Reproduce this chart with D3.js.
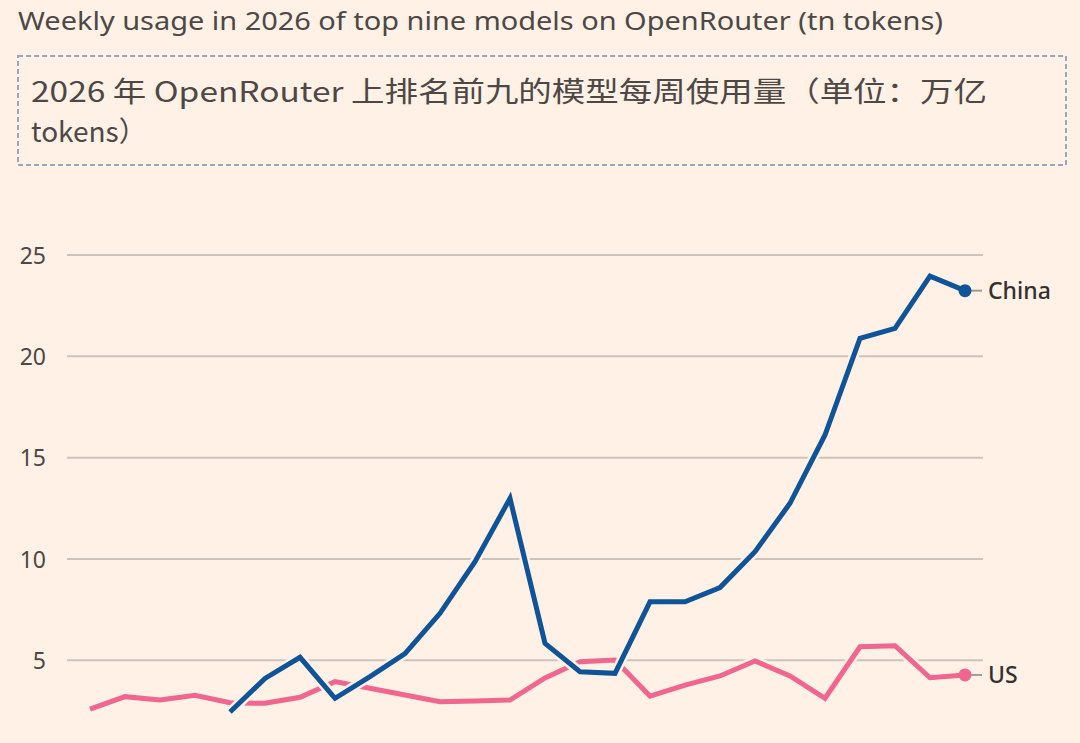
<!DOCTYPE html>
<html>
<head>
<meta charset="utf-8">
<script src="https://cdn.jsdelivr.net/npm/d3@7"></script>
<style>
  html, body { margin: 0; padding: 0; background: #fff1e5; }
  svg { display: block; }
</style>
</head>
<body>
<svg id="chart" width="1080" height="743"></svg>
<script>
// ---- data ----
const weeks = d3.range(1, 27); // 26 weeks of 2026
const usValues = [2.59, 3.21, 3.04, 3.28, 2.91, 2.88, 3.18, 3.95, 3.62, 3.29, 2.96, 3.00, 3.04,
                  4.13, 4.93, 5.02, 3.24, 3.78, 4.23, 4.97, 4.23, 3.13, 5.67, 5.72, 4.14, 4.28];
const chinaValues = [null, null, null, null, 2.45, 4.11, 5.15, 3.13, 4.20, 5.33, 7.32, 9.87, 12.99,
                     5.84, 4.44, 4.36, 7.89, 7.89, 8.59, 10.36, 12.75, 16.12, 20.89, 21.38, 23.96, 23.24];
const yTicks = [5, 10, 15, 20, 25];
const seriesNames = ["US", "China"];
const titleEn = "Weekly usage in 2026 of top nine models on OpenRouter (tn tokens)";
const titleZhLines = ["2026 年 OpenRouter 上排名前九的模型每周使用量（单位：万亿", "tokens）"];

// ---- layout ----
const W = 1080, H = 743;
const bg = "#fff1e5";
const colors = { US: "#f0668f", China: "#0f5499" };
const svg = d3.select("#chart");

svg.append("rect").attr("width", W).attr("height", H).attr("fill", bg);

// English title
svg.append("text")
  .attr("x", 18).attr("y", 30)
  .attr("font-family", "'Noto Sans', 'Open Sans', sans-serif")
  .attr("font-size", 26)
  .attr("fill", "#4d4845")
  .attr("textLength", 925).attr("lengthAdjust", "spacingAndGlyphs")
  .text(titleEn);

// Dashed box with Chinese title
svg.append("rect")
  .attr("x", 18).attr("y", 56).attr("width", 1048).attr("height", 109)
  .attr("fill", "none")
  .attr("stroke", "#9ba6b9").attr("stroke-width", 2)
  .attr("stroke-dasharray", "5,3");

const zh = svg.append("text")
  .attr("font-family", "'Noto Sans CJK SC', 'Noto Sans', sans-serif")
  .attr("font-size", 28)
  .attr("fill", "#4d4845");
zh.append("tspan").attr("x", 31).attr("y", 102).attr("textLength", 956).attr("lengthAdjust", "spacingAndGlyphs").text(titleZhLines[0]);
zh.append("tspan").attr("x", 31).attr("y", 142).text(titleZhLines[1]);

// scales
const x = d3.scaleLinear().domain([0, weeks.length - 1]).range([90, 965]);
const y = d3.scaleLinear().domain([0, 25]).range([761.7, 255]);

// gridlines + y axis labels
const yAxis = d3.axisLeft(y).tickValues(yTicks).tickSize(0).tickPadding(0).tickFormat(d3.format("d"));
const gAxis = svg.append("g").attr("transform", "translate(46,0)").call(yAxis);
gAxis.select(".domain").remove();
gAxis.selectAll("text")
  .attr("font-family", "'Noto Sans', 'Open Sans', sans-serif")
  .attr("font-size", 23)
  .attr("fill", "#4d4845")
  .attr("dy", "0.35em");

svg.append("g").selectAll("line").data(yTicks).join("line")
  .attr("x1", 67).attr("x2", 983)
  .attr("y1", d => y(d)).attr("y2", d => y(d))
  .attr("stroke", "#cdc3b8").attr("stroke-width", 2);

// lines
const dataBy = { US: usValues, China: chinaValues };
const line = d3.line()
  .defined(d => d != null)
  .x((d, i) => x(i))
  .y(d => y(d));

seriesNames.forEach(name => {
  const vals = dataBy[name];
  svg.append("path").datum(vals)
    .attr("d", line).attr("fill", "none")
    .attr("stroke", bg).attr("stroke-width", 10)
    .attr("stroke-linejoin", "miter");
  svg.append("path").datum(vals)
    .attr("d", line).attr("fill", "none")
    .attr("stroke", colors[name]).attr("stroke-width", 5)
    .attr("stroke-linejoin", "miter");
});

// end markers and labels
seriesNames.forEach(name => {
  const vals = dataBy[name];
  const i = vals.length - 1;
  const cx = x(i), cy = y(vals[i]);
  svg.append("line")
    .attr("x1", cx).attr("x2", cx + 17)
    .attr("y1", cy).attr("y2", cy)
    .attr("stroke", "#a09a95").attr("stroke-width", 2);
  svg.append("circle")
    .attr("cx", cx).attr("cy", cy).attr("r", 6.5)
    .attr("fill", colors[name]);
  svg.append("text")
    .attr("x", cx + 23).attr("y", cy)
    .attr("dy", "0.35em")
    .attr("font-family", "'Noto Sans', 'Open Sans', sans-serif")
    .attr("font-size", 23)
    .attr("font-weight", 500)
    .attr("fill", "#33302e")
    .text(name);
});
</script>
</body>
</html>
